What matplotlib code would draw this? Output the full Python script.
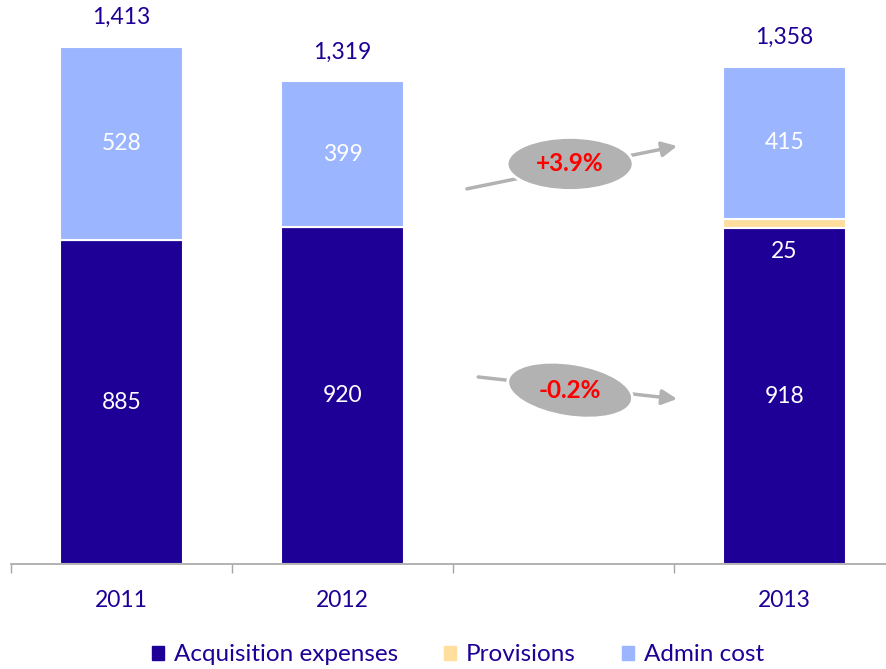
import numpy as np
import matplotlib
matplotlib.use("Agg")
import matplotlib.pyplot as plt
from matplotlib.patches import Ellipse
from matplotlib.transforms import ScaledTranslation

# data
categories = ["2011", "2012", "", "2013"]
acquisition = [885, 920, np.nan, 918]
provisions = [0, 0, np.nan, 25]
admin = [528, 399, np.nan, 415]
totals = [1413, 1319, np.nan, 1358]
changes = ["+3.9%", "-0.2%"]

c_acq = "#1E0096"
c_prov = "#FFDE9E"
c_adm = "#9BB5FF"
c_text = "#1E0096"
c_grey = "#A6A6A6"

plt.rcParams["font.family"] = ["Lato", "DejaVu Sans"]
fs = 16.5

fig = plt.figure(figsize=(8.86, 6.69), dpi=100)
ax = fig.add_axes([11 / 886, 105 / 669, 884 / 886, 564 / 669])

x = np.arange(len(categories))
acq = np.array(acquisition, dtype=float)
prov = np.array(provisions, dtype=float)
adm = np.array(admin, dtype=float)

w = 0.56
ax.bar(x, acq, w, color=c_acq, edgecolor="white", linewidth=1.5)
ax.bar(x, prov, w, bottom=acq, color=c_prov, edgecolor="white", linewidth=1.5)
ax.bar(x, adm, w, bottom=acq + prov, color=c_adm, edgecolor="white", linewidth=1.5)

ax.set_xlim(-0.5, 3.5)
ax.set_ylim(0, 1541)

# segment labels
for i in x:
    if np.isnan(acq[i]):
        continue
    ax.text(i, acq[i] / 2, f"{acq[i]:.0f}", ha="center", va="center",
            color="white", fontsize=fs)
    ax.text(i, acq[i] + prov[i] + adm[i] / 2, f"{adm[i]:.0f}", ha="center",
            va="center", color="white", fontsize=fs)
    if prov[i] > 0:
        ax.annotate(f"{prov[i]:.0f}", (i, acq[i]), xytext=(0, -17),
                    textcoords="offset points", ha="center", va="center",
                    color="white", fontsize=fs)
    ax.annotate(f"{totals[i]:,.0f}", (i, totals[i]), xytext=(0, 21),
                textcoords="offset points", ha="center", va="center",
                color=c_text, fontsize=fs)

# axis styling
for s in ["top", "right", "left"]:
    ax.spines[s].set_visible(False)
ax.spines["bottom"].set_color(c_grey)
ax.spines["bottom"].set_linewidth(1.2)
ax.set_yticks([])
ax.set_xticks(x)
ax.set_xticklabels(categories, color=c_text, fontsize=fs)
ax.tick_params(axis="x", which="major", length=0, pad=19)
ax.set_xticks(np.arange(-0.5, 4.0, 1.0), minor=True)
ax.tick_params(axis="x", which="minor", length=6.5, color=c_grey, width=1)

# growth arrows with ellipses
arrows = [((1.563, 1025), (2.514, 1142), (2.03, 1093), 0),
          ((1.614, 511), (2.514, 451), (2.03, 475), -9)]
for (start, end, centre, ang), label in zip(arrows, changes):
    ax.annotate("", xy=end, xytext=start,
                arrowprops=dict(arrowstyle="-|>,head_length=0.9,head_width=0.45",
                                color="#B2B2B2", lw=2.5, shrinkA=0, shrinkB=0))
    tr = fig.dpi_scale_trans + ScaledTranslation(centre[0], centre[1], ax.transData)
    ax.add_patch(Ellipse((0, 0), 1.26, 0.53, angle=ang, transform=tr,
                         facecolor="#B2B2B2", edgecolor="white", lw=2,
                         zorder=5))
    ax.text(centre[0], centre[1], label, ha="center", va="center",
            color="#FF0000", fontsize=17.5, fontweight="bold", zorder=6)

handles = [plt.Rectangle((0, 0), 1, 1, color=c) for c in (c_acq, c_prov, c_adm)]
fig.legend(handles, ["Acquisition expenses", "Provisions", "Admin cost"],
           loc="center", bbox_to_anchor=(0.517, 0.021), ncol=3, frameon=False,
           fontsize=17.5, labelcolor=c_text, handlelength=0.5,
           handleheight=0.5, handletextpad=0.4, columnspacing=1.9)

fig.savefig("out.png", dpi=100)
